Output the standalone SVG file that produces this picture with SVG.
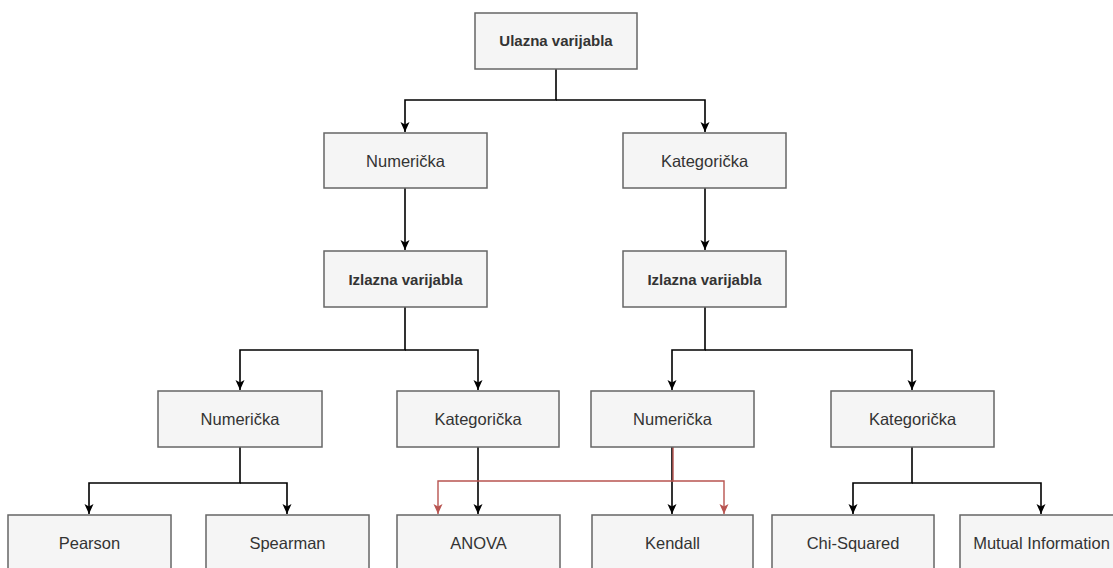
<svg xmlns="http://www.w3.org/2000/svg" width="1113" height="568" viewBox="0 0 1113 568">
<style>
.box{fill:#f5f5f5;stroke:#666666;stroke-width:1.5}
.t{font-family:"Liberation Sans",Arial,sans-serif;font-size:16.5px;fill:#333333;text-anchor:middle}
.b{font-weight:bold;font-size:15px}
.e{fill:none;stroke:#000000;stroke-width:1.6}
.r{fill:none;stroke:#b85450;stroke-width:1.4}
</style>
<defs>
<marker id="ab" viewBox="0 0 10 10" refX="10" refY="5" markerWidth="10" markerHeight="10" markerUnits="userSpaceOnUse" orient="auto">
<path d="M0,0.5 L10,5 L0,9.5 L2.5,5 z" fill="#000000"/>
</marker>
<marker id="ar" viewBox="0 0 10 10" refX="10" refY="5" markerWidth="10" markerHeight="10" markerUnits="userSpaceOnUse" orient="auto">
<path d="M0,0.5 L10,5 L0,9.5 L2.5,5 z" fill="#b85450"/>
</marker>
</defs>
<rect width="1113" height="568" fill="#ffffff"/>
<g id="connectors">
<path class="e" d="M556,69 V100 H405 V132" marker-end="url(#ab)"/>
<path class="e" d="M556,100 H705 V132" marker-end="url(#ab)"/>
<path class="e" d="M405,188 V250" marker-end="url(#ab)"/>
<path class="e" d="M705,188 V250" marker-end="url(#ab)"/>
<path class="e" d="M405,307 V350 H240 V390" marker-end="url(#ab)"/>
<path class="e" d="M405,350 H478 V390" marker-end="url(#ab)"/>
<path class="e" d="M705,307 V350 H672 V390" marker-end="url(#ab)"/>
<path class="e" d="M705,350 H912 V390" marker-end="url(#ab)"/>
<path class="e" d="M240,447 V483 H89 V514" marker-end="url(#ab)"/>
<path class="e" d="M240,483 H287 V514" marker-end="url(#ab)"/>
<path class="e" d="M478,447 V514" marker-end="url(#ab)"/>
<path class="e" d="M672,447 V514" marker-end="url(#ab)"/>
<path class="e" d="M912,447 V483 H853 V514" marker-end="url(#ab)"/>
<path class="e" d="M912,483 H1041 V514" marker-end="url(#ab)"/>
<path class="r" d="M673,447 V481 H438 V514" marker-end="url(#ar)"/>
<path class="r" d="M673,481 H724 V514" marker-end="url(#ar)"/>
</g>
<g id="n-ulazna"><rect class="box" x="475" y="13" width="162" height="56"/><text class="t b" x="556" y="46">Ulazna varijabla</text></g>
<g id="n-num1"><rect class="box" x="324" y="133" width="163" height="55"/><text class="t" x="405.5" y="166.5">Numerička</text></g>
<g id="n-kat1"><rect class="box" x="623" y="133" width="163" height="55"/><text class="t" x="704.5" y="166.5">Kategorička</text></g>
<g id="n-izl1"><rect class="box" x="324" y="251" width="163" height="56"/><text class="t b" x="405.5" y="284.5">Izlazna varijabla</text></g>
<g id="n-izl2"><rect class="box" x="623" y="251" width="163" height="56"/><text class="t b" x="704.5" y="284.5">Izlazna varijabla</text></g>
<g id="n-num2"><rect class="box" x="158" y="391" width="164" height="56"/><text class="t" x="240" y="425">Numerička</text></g>
<g id="n-kat2"><rect class="box" x="397" y="391" width="162" height="56"/><text class="t" x="478" y="425">Kategorička</text></g>
<g id="n-num3"><rect class="box" x="591" y="391" width="163" height="56"/><text class="t" x="672.5" y="425">Numerička</text></g>
<g id="n-kat3"><rect class="box" x="831" y="391" width="163" height="56"/><text class="t" x="912.5" y="425">Kategorička</text></g>
<g id="n-pearson"><rect class="box" x="8" y="515" width="163" height="56"/><text class="t" x="89.5" y="549">Pearson</text></g>
<g id="n-spearman"><rect class="box" x="206" y="515" width="163" height="56"/><text class="t" x="287.5" y="549">Spearman</text></g>
<g id="n-anova"><rect class="box" x="397" y="515" width="163" height="56"/><text class="t" x="478.5" y="549">ANOVA</text></g>
<g id="n-kendall"><rect class="box" x="592" y="515" width="161" height="56"/><text class="t" x="672.5" y="549">Kendall</text></g>
<g id="n-chi"><rect class="box" x="772" y="515" width="162" height="56"/><text class="t" x="853" y="549">Chi-Squared</text></g>
<g id="n-mi"><rect class="box" x="960" y="515" width="163" height="56"/><text class="t" x="1041.5" y="549">Mutual Information</text></g>
</svg>
